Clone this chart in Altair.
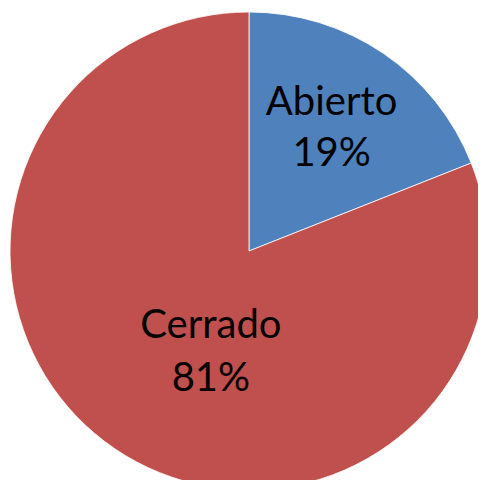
import altair as alt
import pandas as pd
import math

categories = ["Abierto", "Cerrado"]
values = [19, 81]
labels = ["Abierto\n19%", "Cerrado\n81%"]
colors = ["#4F81BD", "#C0504D"]

df = pd.DataFrame({"cat": categories, "val": values, "label": labels, "ord": [0, 1]})

cx, cy = 241, 243
theta_scale = alt.Scale(domain=[0, 100], range=[0, 2 * math.pi])

base = alt.Chart(df)

arc = base.mark_arc(outerRadius=239, stroke="white", strokeWidth=1, strokeOpacity=0.8).encode(
    theta=alt.Theta("val:Q", stack=True, scale=theta_scale),
    color=alt.Color("cat:N", scale=alt.Scale(domain=categories, range=colors), legend=None),
    order=alt.Order("ord:Q"),
    x=alt.value(cx),
    y=alt.value(cy),
)

def label_layer(cat, radius, dx, dy, line_height):
    return (
        base.transform_window(cum="sum(val)", sort=[alt.SortField("ord")])
        .transform_calculate(mid="datum.cum - datum.val / 2")
        .transform_filter(alt.datum.cat == cat)
        .mark_text(
            radius=radius, dx=dx, dy=dy, font="Lato", fontSize=40, color="black",
            lineBreak="\n", lineHeight=line_height, baseline="middle", align="center",
        )
        .encode(
            theta=alt.Theta("mid:Q", scale=theta_scale),
            text="label:N",
            x=alt.value(cx),
            y=alt.value(cy),
        )
    )

chart = alt.layer(
    arc,
    label_layer("Abierto", 147, 0, -26, 51),
    label_layer("Cerrado", 139, 40, -40, 53),
).properties(
    width=470, height=472, padding=0, autosize=alt.AutoSizeParams(type="none")
).configure_view(stroke=None)

chart.save("out.html", embed_options={"renderer": "svg", "actions": False})
